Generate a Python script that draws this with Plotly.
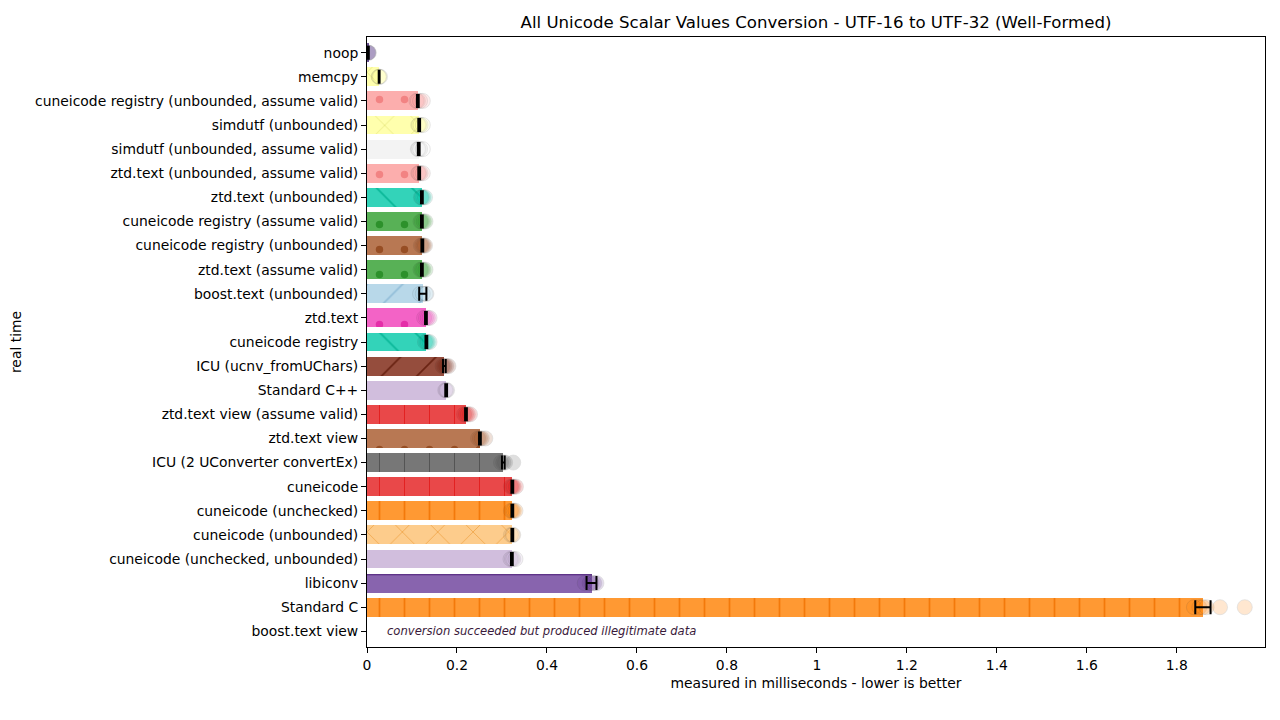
import plotly.graph_objects as go

title = "All Unicode Scalar Values Conversion - UTF-16 to UTF-32 (Well-Formed)"
names = [
    "noop", "memcpy", "cuneicode registry (unbounded, assume valid)", "simdutf (unbounded)",
    "simdutf (unbounded, assume valid)", "ztd.text (unbounded, assume valid)", "ztd.text (unbounded)",
    "cuneicode registry (assume valid)", "cuneicode registry (unbounded)", "ztd.text (assume valid)",
    "boost.text (unbounded)", "ztd.text", "cuneicode registry", "ICU (ucnv_fromUChars)",
    "Standard C++", "ztd.text view (assume valid)", "ztd.text view", "ICU (2 UConverter convertEx)",
    "cuneicode", "cuneicode (unchecked)", "cuneicode (unbounded)", "cuneicode (unchecked, unbounded)",
    "libiconv", "Standard C", "boost.text view",
]
means = [0.003, 0.027, 0.113, 0.116, 0.115, 0.116, 0.122, 0.122, 0.123, 0.122,
         0.124, 0.131, 0.132, 0.172, 0.176, 0.220, 0.251, 0.303,
         0.323, 0.323, 0.323, 0.322, 0.499, 1.858, None]
errs = [0.001, 0.001, 0.002, 0.002, 0.002, 0.002, 0.002, 0.002, 0.002, 0.002,
        0.008, 0.002, 0.002, 0.003, 0.002, 0.002, 0.002, 0.003,
        0.002, 0.002, 0.002, 0.002, 0.011, 0.017, None]
samples = [
    [0.002, 0.003, 0.004],
    [0.026, 0.027, 0.029],
    [0.110, 0.113, 0.118, 0.124],
    [0.114, 0.116, 0.119, 0.124],
    [0.113, 0.115, 0.118, 0.124],
    [0.114, 0.116, 0.119, 0.124],
    [0.120, 0.122, 0.125, 0.129],
    [0.119, 0.122, 0.126, 0.130],
    [0.120, 0.123, 0.126, 0.129],
    [0.119, 0.122, 0.125, 0.130],
    [0.118, 0.124, 0.130, 0.132],
    [0.127, 0.131, 0.135, 0.139],
    [0.129, 0.132, 0.135, 0.139],
    [0.168, 0.172, 0.176, 0.181],
    [0.174, 0.176, 0.178],
    [0.216, 0.220, 0.224, 0.229],
    [0.247, 0.251, 0.255, 0.263],
    [0.298, 0.303, 0.307, 0.325],
    [0.320, 0.323, 0.326, 0.331],
    [0.320, 0.323, 0.326, 0.330],
    [0.320, 0.323, 0.325],
    [0.319, 0.322, 0.325, 0.330],
    [0.484, 0.495, 0.499, 0.505, 0.510],
    [1.838, 1.850, 1.858, 1.866, 1.896, 1.951],
    [],
]
colors = [
    "#4b2a7f", "#ffff99", "#fb9a99", "#ffff99", "#f0f0f0", "#fb9a99", "#00c8a8",
    "#2e9e2c", "#a65628", "#2e9e2c", "#a6cee3", "#f03cb8", "#00c8a8", "#7a200c",
    "#c6aed4", "#e41a1c", "#a65628", "#555555", "#e41a1c", "#ff7f00", "#fdbf6f",
    "#c6aed4", "#6a3d9a", "#ff7f00", "#ffffff",
]
pattern_colors = [
    "#3a1f66", "#e6e67a", "#f07878", "#e6e67a", "#dddddd", "#f07878", "#00b090",
    "#228a20", "#8e4418", "#228a20", "#8ab8d4", "#e020a0", "#00b090", "#5e1808",
    "#b098c4", "#e01010", "#8e4418", "#444444", "#e01010", "#f07000", "#f0a040",
    "#b098c4", "#54287e", "#f07000", "#ffffff",
]
patterns = ["", "x", ".", "x", "", ".", "\\", ".", ".", ".", "/", ".", "\\", "/",
            "", "+", ".", "+", "+", "|", "x", "", "-", "|", ""]
tick_vals = [0, 0.2, 0.4, 0.6, 0.8, 1.0, 1.2, 1.4, 1.6, 1.8]
tick_text = ["0", "0.2", "0.4", "0.6", "0.8", "1", "1.2", "1.4", "1.6", "1.8"]
note = "conversion succeeded but produced illegitimate data"


def blend(hex_color, alpha):
    h = hex_color.lstrip("#")
    r, g, b = (int(h[k:k + 2], 16) for k in (0, 2, 4))
    f = lambda c: int(round(c * alpha + 255 * (1 - alpha)))
    return "#%02x%02x%02x" % (f(r), f(g), f(b))


fig = go.Figure()
for i, (m, c, pc, p) in enumerate(zip(means, colors, pattern_colors, patterns)):
    if m is None:
        continue
    bc = blend(c, 0.8)
    pat = dict(shape=p, fgcolor=pc, bgcolor=bc, fgopacity=0.8, size=25, solidity=0.07,
               fillmode="overlay") if p else dict(shape="")
    fig.add_trace(go.Bar(
        x=[m], y=[i], orientation="h", width=0.78,
        marker=dict(color=bc, line=dict(width=0), pattern=pat),
        showlegend=False, hoverinfo="x+y",
    ))

for i, s in enumerate(samples):
    if not s:
        continue
    fig.add_trace(go.Scatter(
        x=s, y=[i] * len(s), mode="markers",
        marker=dict(size=15, color=colors[i], opacity=0.18,
                    line=dict(width=1, color="rgba(40,40,40,0.6)")),
        showlegend=False, hoverinfo="x",
    ))

ex = [m for m in means if m is not None]
ey = [i for i, m in enumerate(means) if m is not None]
ee = [e for e in errs if e is not None]
fig.add_trace(go.Scatter(
    x=ex, y=ey, mode="markers", marker=dict(size=1, opacity=0),
    error_x=dict(type="data", array=ee, color="black", thickness=2, width=7, visible=True),
    showlegend=False, hoverinfo="skip",
))

fig.add_annotation(x=0.04, y=len(names) - 1, text="<i>" + note + "</i>", showarrow=False,
                   xanchor="left", yanchor="middle",
                   font=dict(size=11.6, color="#3a1a3a", family="DejaVu Sans"))

fig.update_layout(
    width=1280, height=720,
    margin=dict(l=367, r=15, t=37, b=73),
    paper_bgcolor="white", plot_bgcolor="white",
    font=dict(family="DejaVu Sans", size=13.9, color="black"),
    title=dict(text=title, x=(367 + 1265) / 2 / 1280, xanchor="center", y=0.969, yanchor="middle",
               font=dict(size=16.6, color="black")),
    barmode="overlay", bargap=0,
)
fig.update_xaxes(
    range=[0, 1.996], tickvals=tick_vals, ticktext=tick_text,
    showgrid=False, zeroline=False, showline=True, linecolor="black", linewidth=1, mirror=True,
    ticks="outside", ticklen=5, tickcolor="black",
    title=dict(text="measured in milliseconds - lower is better", font=dict(size=13.9), standoff=6),
)
fig.update_yaxes(
    range=[len(names) - 0.35, -0.65], tickvals=list(range(len(names))), ticktext=names,
    showgrid=False, zeroline=False, showline=True, linecolor="black", linewidth=1, mirror=True,
    ticks="outside", ticklen=5, tickcolor="black",
    title=dict(text="real time", font=dict(size=13.9), standoff=10),
)

fig.write_html("out.html")
